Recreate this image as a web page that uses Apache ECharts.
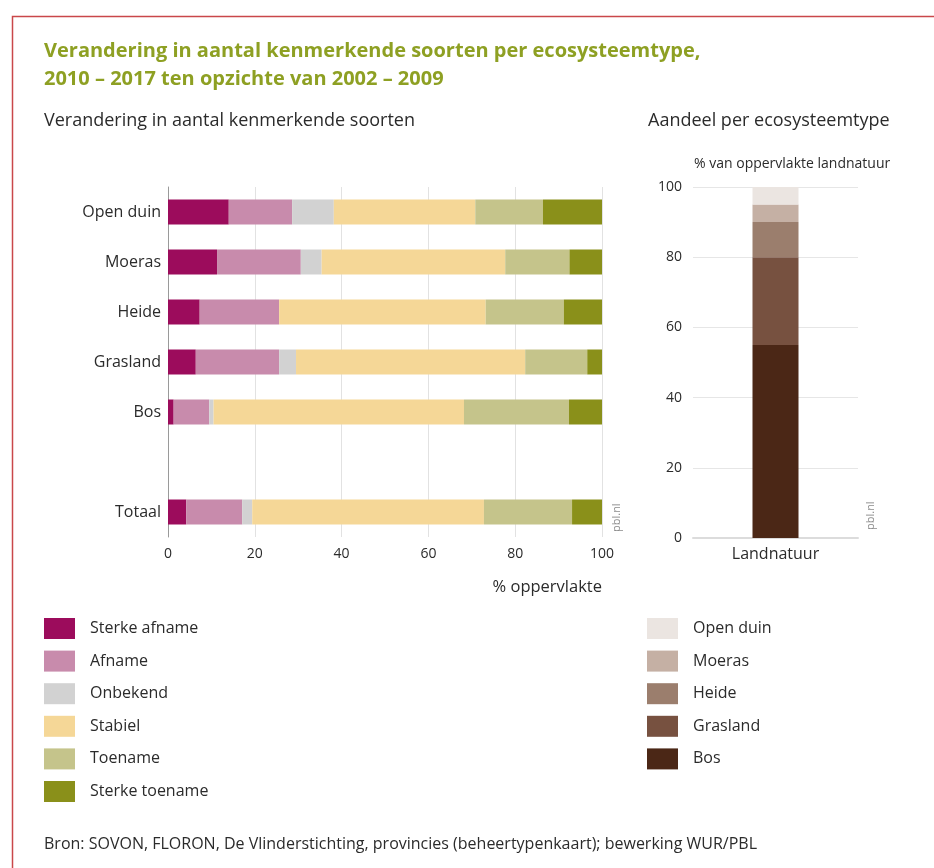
<!DOCTYPE html>
<html>
<head>
<meta charset="utf-8">
<script src="https://cdn.jsdelivr.net/npm/echarts@6/dist/echarts.min.js"></script>
<style>
  html, body { margin: 0; padding: 0; background: #fff; }
  #chart { width: 934px; height: 868px; }
</style>
</head>
<body>
<div id="chart"></div>
<script>
// categories (left chart, with an empty row before Totaal)
const ecoTypes = ['Open duin', 'Moeras', 'Heide', 'Grasland', 'Bos', '', 'Totaal'];

// % oppervlakte per change class
const sterkeAfname   = [14.0, 11.3, 7.3, 6.4, 1.3, null, 4.2];
const afname         = [14.6, 19.3, 18.3, 19.2, 8.2, null, 12.9];
const onbekend       = [9.6, 4.8, 0, 3.9, 1.0, null, 2.3];
const stabiel        = [32.6, 42.3, 47.6, 52.8, 57.7, null, 53.4];
const toename        = [15.6, 14.8, 18.0, 14.3, 24.2, null, 20.3];
const sterkeToename  = [13.6, 7.5, 8.8, 3.4, 7.6, null, 6.9];

// right chart: aandeel per ecosysteemtype (% van oppervlakte landnatuur)
const landCategory = ['Landnatuur'];
const aandeelBos      = [55];
const aandeelGrasland = [25];
const aandeelHeide    = [10];
const aandeelMoeras   = [5];
const aandeelOpenDuin = [5];

const xTicks = [0, 20, 40, 60, 80, 100];

const font = '"Open Sans", "Noto Sans", sans-serif';
const txt = '#2b2b2b';

const leftSeries = [
    ['Sterke afname', sterkeAfname, '#9c0c5c'],
    ['Afname', afname, '#c88bac'],
    ['Onbekend', onbekend, '#d2d2d2'],
    ['Stabiel', stabiel, '#f5d797'],
    ['Toename', toename, '#c5c48b'],
    ['Sterke toename', sterkeToename, '#8a901a']
].map(([name, data, color]) => ({
    name: name,
    type: 'bar',
    stack: 'links',
    xAxisIndex: 0,
    yAxisIndex: 0,
    barWidth: 25,
    itemStyle: { color: color },
    data: data
}));

const rightSeries = [
    ['Bos', aandeelBos, '#4b2716'],
    ['Grasland', aandeelGrasland, '#775140'],
    ['Heide', aandeelHeide, '#9b7e6d'],
    ['Moeras', aandeelMoeras, '#c5b0a4'],
    ['Open duin', aandeelOpenDuin, '#ebe5e1']
].map(([name, data, color]) => ({
    name: name,
    type: 'bar',
    stack: 'rechts',
    xAxisIndex: 1,
    yAxisIndex: 1,
    barWidth: 46,
    itemStyle: { color: color },
    data: data
}));

const chart = echarts.init(document.getElementById('chart'));

const legendStyle = {
    orient: 'vertical',
    top: 618,
    padding: 0,
    itemWidth: 31,
    itemHeight: 21,
    itemGap: 11.6,
    icon: 'rect',
    selectedMode: false,
    textStyle: { color: txt, fontSize: 16, padding: [0, 0, 0, 10] }
};

const option = {
    backgroundColor: '#fff',
    animation: false,
    textStyle: { fontFamily: font },
    title: {
        text: 'Verandering in aantal kenmerkende soorten per ecosysteemtype,\n2010 – 2017 ten opzichte van 2002 – 2009',
        left: 44,
        top: 37,
        padding: 0,
        textStyle: { color: '#8ea023', fontSize: 20, fontWeight: 'bold', lineHeight: 28, fontFamily: font }
    },
    legend: [
        Object.assign({ data: ['Sterke afname', 'Afname', 'Onbekend', 'Stabiel', 'Toename', 'Sterke toename'], left: 44 }, legendStyle),
        Object.assign({ data: ['Open duin', 'Moeras', 'Heide', 'Grasland', 'Bos'], left: 647 }, legendStyle)
    ],
    grid: [
        { left: 168, width: 434, top: 187, height: 350 },
        { left: 693, width: 165, top: 187, height: 351 }
    ],
    xAxis: [{
        type: 'value',
        gridIndex: 0,
        min: 0,
        max: 100,
        interval: 20,
        axisLine: { show: false },
        axisTick: { show: false },
        axisLabel: { color: txt, fontSize: 14, margin: 10, formatter: v => xTicks.includes(v) ? String(v) : '' },
        splitLine: { lineStyle: { color: '#e2e2e2', width: 1 } }
    }, {
        type: 'category',
        gridIndex: 1,
        data: landCategory,
        axisLine: { lineStyle: { color: '#dcdcdc', width: 2 } },
        axisTick: { show: false },
        axisLabel: { color: txt, fontSize: 16, margin: 8 }
    }],
    yAxis: [{
        type: 'category',
        gridIndex: 0,
        data: ecoTypes,
        inverse: true,
        axisLine: { lineStyle: { color: '#9a9a9a', width: 1 } },
        axisTick: { show: false },
        axisLabel: { color: txt, fontSize: 16, margin: 7 }
    }, {
        type: 'value',
        gridIndex: 1,
        min: 0,
        max: 100,
        interval: 20,
        axisLine: { show: false },
        axisTick: { show: false },
        axisLabel: { color: txt, fontSize: 14, margin: 11 },
        splitLine: { lineStyle: { color: '#e6e6e6', width: 1 } }
    }],
    series: leftSeries.concat(rightSeries),
    graphic: [
        { type: 'rect', left: 10, top: 14, shape: { width: 940, height: 870 }, style: { fill: 'none', stroke: '#c9474a', lineWidth: 1.5 }, silent: true },
        { type: 'text', left: 44, top: 112, style: { text: 'Verandering in aantal kenmerkende soorten', fill: txt, font: '18px ' + font } },
        { type: 'text', left: 648, top: 112, style: { text: 'Aandeel per ecosysteemtype', fill: txt, font: '18px ' + font } },
        { type: 'text', left: 694, top: 157, style: { text: '% van oppervlakte landnatuur', fill: txt, font: '14px ' + font } },
        { type: 'text', right: 332, top: 579, style: { text: '% oppervlakte', fill: txt, font: '16.5px ' + font } },
        { type: 'text', x: 611, y: 532, rotation: Math.PI / 2, style: { text: 'pbl.nl', fill: '#8c8c8c', font: '11px ' + font } },
        { type: 'text', x: 865, y: 530, rotation: Math.PI / 2, style: { text: 'pbl.nl', fill: '#8c8c8c', font: '11px ' + font } },
        { type: 'text', left: 44, top: 836, style: { text: 'Bron: SOVON, FLORON, De Vlinderstichting, provincies (beheertypenkaart); bewerking WUR/PBL', fill: txt, font: '16px ' + font } }
    ]
};

chart.setOption(option);
</script>
</body>
</html>
